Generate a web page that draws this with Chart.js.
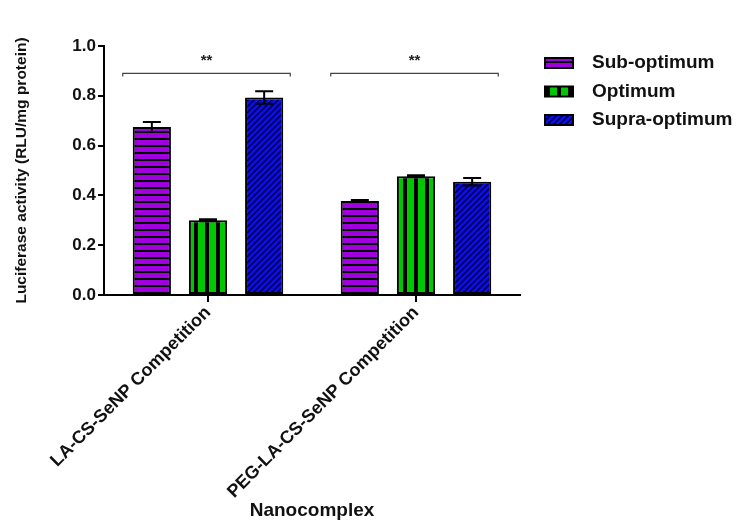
<!DOCTYPE html>
<html>
<head>
<meta charset="UTF-8">
<title>Luciferase activity</title>
<script src="https://cdn.jsdelivr.net/npm/chart.js@4"></script>
<style>
  html, body { margin: 0; padding: 0; background: #fff; }
  #wrap { width: 737px; height: 523px; position: relative; }
</style>
</head>
<body>
<div id="wrap"><canvas id="chart"></canvas></div>
<script>
const categories = ['LA-CS-SeNP Competition', 'PEG-LA-CS-SeNP Competition'];
const seriesNames = ['Sub-optimum', 'Optimum', 'Supra-optimum'];
const subOptimum = [0.675, 0.378];
const optimum = [0.300, 0.477];
const supraOptimum = [0.793, 0.455];
const subOptimumErr = [0.020, 0.004];
const optimumErr = [0.004, 0.004];
const supraOptimumErr = [0.025, 0.015];
const sigLabels = ['**', '**'];
const sigLevel = 0.89;
const yTicks = [0, 0.2, 0.4, 0.6, 0.8, 1.0];

const FONT = '"Liberation Sans", Arial, sans-serif';

// fill patterns like the GraphPad bars
function makePattern(kind) {
    const c = document.createElement('canvas');
    const g = c.getContext('2d');
    if (kind === 'h') {
        c.width = 8; c.height = 7;
        g.fillStyle = '#a000e0'; g.fillRect(0, 0, 8, 7);
        g.fillStyle = '#000'; g.fillRect(0, 5, 8, 2);
    } else if (kind === 'v') {
        c.width = 11; c.height = 8;
        g.fillStyle = '#00c800'; g.fillRect(0, 0, 11, 8);
        g.fillStyle = '#000'; g.fillRect(7, 0, 4, 8);
    } else {
        c.width = 6; c.height = 6;
        g.fillStyle = '#0a0aff'; g.fillRect(0, 0, 6, 6);
        g.strokeStyle = '#000'; g.lineWidth = 1.4;
        g.beginPath();
        g.moveTo(-1, 7); g.lineTo(7, -1);
        g.moveTo(-1, 1); g.lineTo(1, -1);
        g.moveTo(5, 7); g.lineTo(7, 5);
        g.stroke();
    }
    return document.getElementById('chart').getContext('2d').createPattern(c, 'repeat');
}

const fills = [makePattern('h'), makePattern('v'), makePattern('d')];
const values = [subOptimum, optimum, supraOptimum];
const errors = [subOptimumErr, optimumErr, supraOptimumErr];

const errorBars = {
    id: 'errorBars',
    afterDatasetsDraw(chart) {
        const ctx = chart.ctx;
        const y = chart.scales.y;
        ctx.save();
        ctx.strokeStyle = '#000';
        ctx.lineWidth = 2;
        chart.data.datasets.forEach((ds, di) => {
            chart.getDatasetMeta(di).data.forEach((bar, i) => {
                const v = ds.data[i], e = errors[di][i];
                const yt = y.getPixelForValue(v + e), yb = y.getPixelForValue(v - e);
                ctx.beginPath();
                ctx.moveTo(bar.x, yt); ctx.lineTo(bar.x, yb);
                ctx.moveTo(bar.x - 9, yt); ctx.lineTo(bar.x + 9, yt);
                ctx.moveTo(bar.x - 9, yb); ctx.lineTo(bar.x + 9, yb);
                ctx.stroke();
            });
        });
        // significance brackets over each group
        const first = chart.getDatasetMeta(0).data;
        const last = chart.getDatasetMeta(chart.data.datasets.length - 1).data;
        const yl = y.getPixelForValue(sigLevel);
        const yd = y.getPixelForValue(sigLevel - 0.012);
        ctx.strokeStyle = '#444';
        ctx.lineWidth = 1.2;
        ctx.fillStyle = '#222';
        ctx.font = 'bold 15px ' + FONT;
        ctx.textAlign = 'center';
        ctx.textBaseline = 'middle';
        sigLabels.forEach((lab, i) => {
            const x0 = first[i].x - first[i].width / 2 - 10;
            const x1 = last[i].x + last[i].width / 2 + 7;
            ctx.beginPath();
            ctx.moveTo(x0, yd); ctx.lineTo(x0, yl); ctx.lineTo(x1, yl); ctx.lineTo(x1, yd);
            ctx.stroke();
            ctx.fillText(lab, (x0 + x1) / 2, y.getPixelForValue(sigLevel + 0.05));
        });
        ctx.restore();
    }
};

const sideLegend = {
    id: 'sideLegend',
    afterDraw(chart) {
        const ctx = chart.ctx;
        ctx.save();
        ctx.font = 'bold 19px ' + FONT;
        ctx.textBaseline = 'middle';
        chart.data.datasets.forEach((ds, i) => {
            const cy = 63 + i * 28.5;
            ctx.fillStyle = ds.backgroundColor;
            ctx.fillRect(545, cy - 5, 28, 10);
            ctx.strokeStyle = '#000';
            ctx.lineWidth = 2;
            ctx.strokeRect(545, cy - 5, 28, 10);
            ctx.fillStyle = '#111';
            ctx.fillText(ds.label, 592, cy);
        });
        ctx.restore();
    }
};

new Chart(document.getElementById('chart'), {
    type: 'bar',
    data: {
        labels: categories,
        datasets: seriesNames.map((name, i) => ({
            label: name,
            data: values[i],
            backgroundColor: fills[i],
            borderColor: '#000',
            borderWidth: 2,
            borderSkipped: false,
            barPercentage: 0.68,
            categoryPercentage: 0.81
        }))
    },
    options: {
        responsive: true,
        maintainAspectRatio: false,
        animation: false,
        layout: { padding: { top: 46, right: 217, left: 0, bottom: 0 } },
        plugins: {
            legend: { display: false },
            tooltip: { enabled: false }
        },
        scales: {
            x: {
                offset: true,
                grid: { offset: false, drawOnChartArea: false, color: '#000', lineWidth: 2, tickLength: 7 },
                border: { color: '#000', width: 2 },
                ticks: {
                    color: '#111',
                    font: { family: FONT, size: 18, weight: 'bold' },
                    maxRotation: 45, minRotation: 45, padding: 0
                },
                title: {
                    display: true, text: 'Nanocomplex', color: '#111',
                    font: { family: FONT, size: 19, weight: 'bold' },
                    padding: { top: 0, bottom: 1 }
                },
                afterFit(scale) { scale.height = 228; }
            },
            y: {
                min: 0, max: 1.0,
                afterBuildTicks(scale) { scale.ticks = yTicks.map(v => ({ value: v })); },
                grid: { drawOnChartArea: false, color: '#000', lineWidth: 2, tickLength: 6 },
                border: { color: '#000', width: 2 },
                ticks: {
                    color: '#111',
                    font: { family: FONT, size: 17, weight: 'bold' },
                    padding: 2,
                    callback: v => v.toFixed(1)
                },
                title: {
                    display: true, text: 'Luciferase activity (RLU/mg protein)', color: '#111',
                    font: { family: FONT, size: 15.5, weight: 'bold' },
                    padding: { top: 12, bottom: 0 }
                },
                afterFit(scale) { scale.width = 104; }
            }
        }
    },
    plugins: [errorBars, sideLegend]
});
</script>
</body>
</html>
